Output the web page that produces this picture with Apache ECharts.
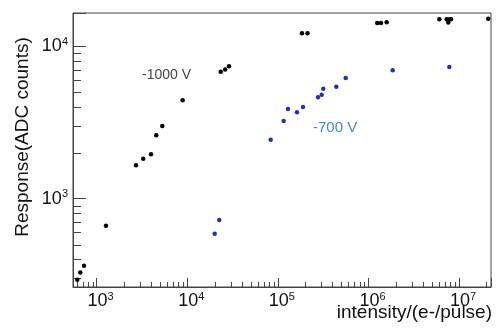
<!DOCTYPE html>
<html>
<head>
<meta charset="utf-8">
<script src="https://cdn.jsdelivr.net/npm/echarts/dist/echarts.min.js"></script>
<style>
  html, body { margin: 0; padding: 0; background: #fff; }
  #chart { width: 502px; height: 334px; }
</style>
</head>
<body>
<div id="chart"></div>
<script>
// -1000 V points
var hvX = [611, 659, 724, 1266, 2716, 3268, 3975, 4548, 5300, 8894, 23370, 26200, 28860,
  184500, 212300, 1250000, 1374000, 1588000, 6050000, 7300000, 7800000, 8140000, 7600000, 21000000];
var hvY = [294, 327, 363, 665, 1654, 1830, 1954, 2604, 2998, 4420, 6801, 7040, 7413,
  12170, 12170, 14220, 14220, 14380, 15040, 15040, 15040, 15040, 14310, 15150];

// -700 V points
var lvX = [20060, 22550, 83260, 115800, 129300, 162500, 189300, 277200, 304400, 316700,
  441400, 560300, 1849000, 7800000];
var lvY = [589, 723, 2440, 3232, 3876, 3687, 3995, 4626, 4818, 5276, 5438, 6194, 6957, 7313];

// axis ranges and minor tick values
var X_MIN = 548, X_MAX = 22500000;
var Y_MIN = 263, Y_MAX = 16550;
var xMinor = [600, 700, 800, 900,
  2000, 3000, 4000, 5000, 6000, 7000, 8000, 9000,
  20000, 30000, 40000, 50000, 60000, 70000, 80000, 90000,
  200000, 300000, 400000, 500000, 600000, 700000, 800000, 900000,
  2000000, 3000000, 4000000, 5000000, 6000000, 7000000, 8000000, 9000000,
  20000000];
var yMinor = [300, 400, 500, 600, 700, 800, 900,
  2000, 3000, 4000, 5000, 6000, 7000, 8000, 9000];

var AXIS_COLOR = '#444';
var FONT = '"Liberation Sans", Arial, sans-serif';

function zip(xs, ys) {
  return xs.map(function (x, i) { return [x, ys[i]]; });
}

// only label exact powers of ten, as 10^n
function powLabel(v) {
  var n = Math.log10(v);
  if (Math.abs(n - Math.round(n)) > 1e-6) return '';
  return '{b|10}{s|' + Math.round(n) + '}';
}
var labelRich = {
  b: { fontSize: 18, fontFamily: FONT, color: '#111', lineHeight: 20 },
  s: { fontSize: 11, fontFamily: FONT, color: '#111', verticalAlign: 'top', lineHeight: 14 }
};

function xTick(params, api) {
  var p = api.coord([api.value(0), Y_MIN]);
  var x = Math.round(p[0]) + 0.5;
  return { type: 'line', shape: { x1: x, y1: p[1], x2: x, y2: p[1] - 5 },
    style: { stroke: AXIS_COLOR, lineWidth: 1 } };
}
function yTick(params, api) {
  var p = api.coord([X_MIN, api.value(1)]);
  var y = Math.round(p[1]) + 0.5;
  return { type: 'line', shape: { x1: p[0], y1: y, x2: p[0] + 8, y2: y },
    style: { stroke: AXIS_COLOR, lineWidth: 1 } };
}

var chart = echarts.init(document.getElementById('chart'), null, { renderer: 'canvas' });
chart.setOption({
  animation: false,
  backgroundColor: '#fff',
  grid: { left: 73, top: 13, right: 11, bottom: 47, show: true, borderColor: AXIS_COLOR, borderWidth: 1 },
  xAxis: {
    type: 'log', logBase: 10, min: X_MIN, max: X_MAX,
    axisLine: { lineStyle: { color: AXIS_COLOR } },
    axisTick: { inside: true, length: 9, lineStyle: { color: AXIS_COLOR } },
    splitLine: { show: false },
    axisLabel: { formatter: powLabel, rich: labelRich, margin: 4, padding: [0, 0, 0, 8], showMinLabel: true, showMaxLabel: true }
  },
  yAxis: {
    type: 'log', logBase: 10, min: Y_MIN, max: Y_MAX,
    axisLine: { lineStyle: { color: AXIS_COLOR } },
    axisTick: { inside: true, length: 13, lineStyle: { color: AXIS_COLOR } },
    splitLine: { show: false },
    axisLabel: { formatter: powLabel, rich: labelRich, margin: 5 }
  },
  series: [
    {
      type: 'custom', renderItem: xTick, silent: true, clip: false,
      data: xMinor.map(function (v) { return [v, Y_MIN]; })
    },
    {
      type: 'custom', renderItem: yTick, silent: true, clip: false,
      data: yMinor.map(function (v) { return [X_MIN, v]; })
    },
    {
      name: '-1000 V', type: 'scatter', symbol: 'circle', symbolSize: 4.5,
      itemStyle: { color: '#000', opacity: 1 }, data: zip(hvX, hvY)
    },
    {
      name: '-700 V', type: 'scatter', symbol: 'circle', symbolSize: 4.5,
      itemStyle: { color: '#2334a8', opacity: 1 }, data: zip(lvX, lvY)
    }
  ],
  graphic: [
    { type: 'text', x: 23, y: 137, rotation: Math.PI / 2,
      style: { text: 'Response(ADC counts)', fontSize: 19, fontFamily: FONT, fill: '#111', align: 'center', verticalAlign: 'middle' } },
    { type: 'text', x: 492, y: 313,
      style: { text: 'intensity/(e-/pulse)', fontSize: 19, fontFamily: FONT, fill: '#111', align: 'right', verticalAlign: 'middle' } },
    { type: 'text', x: 142, y: 75,
      style: { text: '-1000 V', fontSize: 14, fontFamily: FONT, fill: '#444', align: 'left', verticalAlign: 'middle' } },
    { type: 'text', x: 313, y: 128,
      style: { text: '-700 V', fontSize: 15, fontFamily: FONT, fill: '#3a8cc4', align: 'left', verticalAlign: 'middle' } }
  ]
});
</script>
</body>
</html>
